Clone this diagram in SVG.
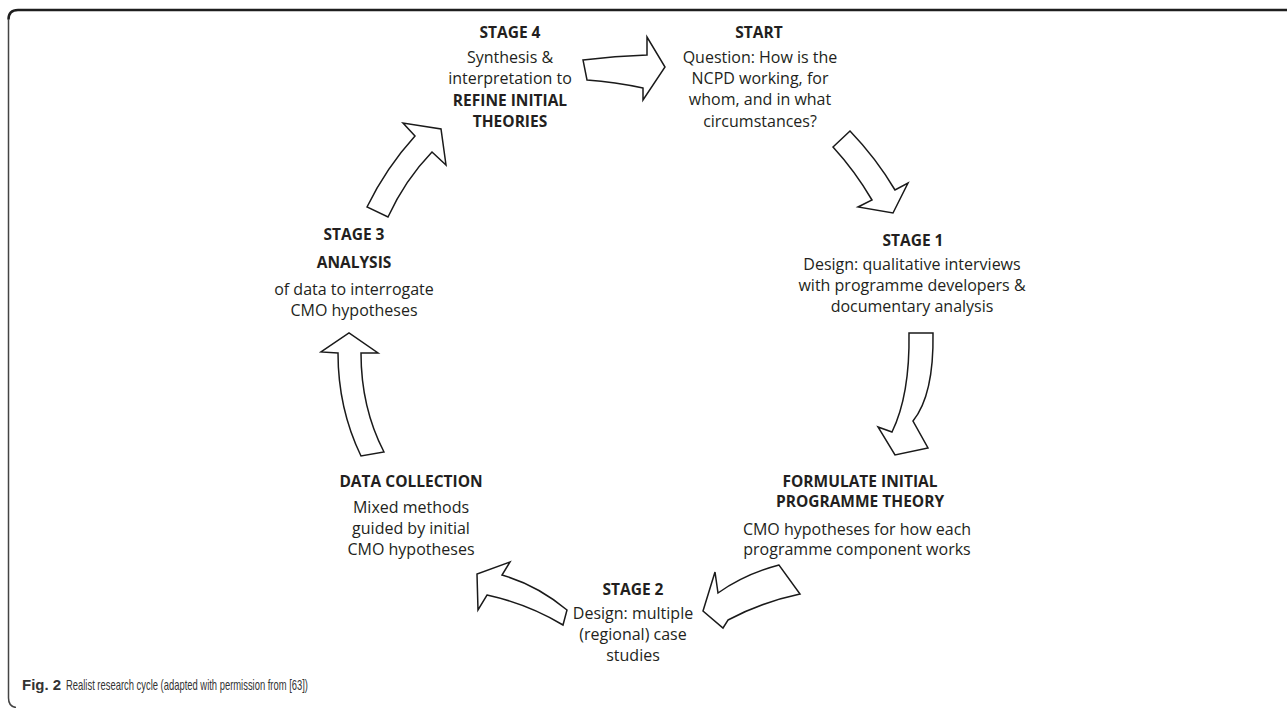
<svg xmlns="http://www.w3.org/2000/svg" width="1287" height="708" viewBox="0 0 1287 708">
<style>
.t{font-family:"Open Sans","Liberation Sans",sans-serif;font-size:16px;fill:#231f20;text-anchor:middle}
.b{font-weight:bold;font-size:15.5px}
.arr{fill:#fff;stroke:#1a1a1a;stroke-width:1.5;stroke-linejoin:miter}
.cap{font-family:"Liberation Sans",sans-serif;font-size:15px;fill:#333}
</style>
<rect width="1287" height="708" fill="#fff"/>
<g id="frame" fill="none">
<path d="M1287,10 L18,10 Q8.5,10 8.5,19.5" stroke="#1e1e1e" stroke-width="2.5"/>
<path d="M8.5,19 L8.5,698 Q8.5,706.5 16,707.5" stroke="#444" stroke-width="1.5"/>
</g>
<g id="connectors">
<path class="arr" d="M583,60 Q615,56 647,55 L647,37 L665,67 L643,100 L643,88 Q615,82 587,80 Z"/>
<path class="arr" d="M850,131 Q876,158 895,190 L908,183 L893,213 L858,207 L872,200 Q855,171 833,147 Z"/>
<path class="arr" d="M909,333 L933,333 Q934,395 913,421 L928,448 L895,455 L878,427 L892,432 Q910,395 909,333 Z"/>
<path class="arr" d="M779,565 Q745,574 718,593 L715,572 L703,611 L723,628 L728,620 Q762,602 800,594 Z"/>
<path class="arr" d="M567,610 Q537,585 502,575 L510,562 L477,574 L478,610 L487,595 Q528,604 563,625 Z"/>
<path class="arr" d="M338,353 L321,352 L349,333 L378,353 L361,353 C361,392 370,425 384,452 L361,456 C346,425 338,390 338,353 Z"/>
<path class="arr" d="M367,207 Q386,168 415,136 L403,123 L441,129 L446,165 L432,152 Q405,180 388,217 Z"/>
</g>
<g id="stage4">
<text class="t b" x="510" y="38">STAGE 4</text>
<text class="t" x="510" y="63">Synthesis &amp;</text>
<text class="t" x="510" y="84">interpretation to</text>
<text class="t b" x="510" y="106">REFINE INITIAL</text>
<text class="t b" x="510" y="127">THEORIES</text>
</g>
<g id="start">
<text class="t b" x="759" y="38">START</text>
<text class="t" x="760" y="63">Question: How is the</text>
<text class="t" x="760" y="84">NCPD working, for</text>
<text class="t" x="760" y="105">whom, and in what</text>
<text class="t" x="760" y="127">circumstances?</text>
</g>
<g id="stage1">
<text class="t b" x="913" y="246">STAGE 1</text>
<text class="t" x="912" y="270">Design: qualitative interviews</text>
<text class="t" x="912" y="291">with programme developers &amp;</text>
<text class="t" x="912" y="312">documentary analysis</text>
</g>
<g id="formulate">
<text class="t b" x="860" y="487">FORMULATE INITIAL</text>
<text class="t b" x="860" y="507">PROGRAMME THEORY</text>
<text class="t" x="857" y="535">CMO hypotheses for how each</text>
<text class="t" x="857" y="555">programme component works</text>
</g>
<g id="stage2">
<text class="t b" x="633" y="595">STAGE 2</text>
<text class="t" x="633" y="619">Design: multiple</text>
<text class="t" x="633" y="640">(regional) case</text>
<text class="t" x="633" y="661">studies</text>
</g>
<g id="datacollection">
<text class="t b" x="411" y="487">DATA COLLECTION</text>
<text class="t" x="411" y="513">Mixed methods</text>
<text class="t" x="411" y="534">guided by initial</text>
<text class="t" x="411" y="555">CMO hypotheses</text>
</g>
<g id="stage3">
<text class="t b" x="354" y="240">STAGE 3</text>
<text class="t b" x="354" y="268">ANALYSIS</text>
<text class="t" x="354" y="295">of data to interrogate</text>
<text class="t" x="354" y="316">CMO hypotheses</text>
</g>
<g id="caption">
<text class="cap" x="22" y="690" font-weight="bold" fill="#231f20">Fig. 2</text>
<text class="cap" x="66" y="690" textLength="242" lengthAdjust="spacingAndGlyphs">Realist research cycle (adapted with permission from [63])</text>
</g>
</svg>
